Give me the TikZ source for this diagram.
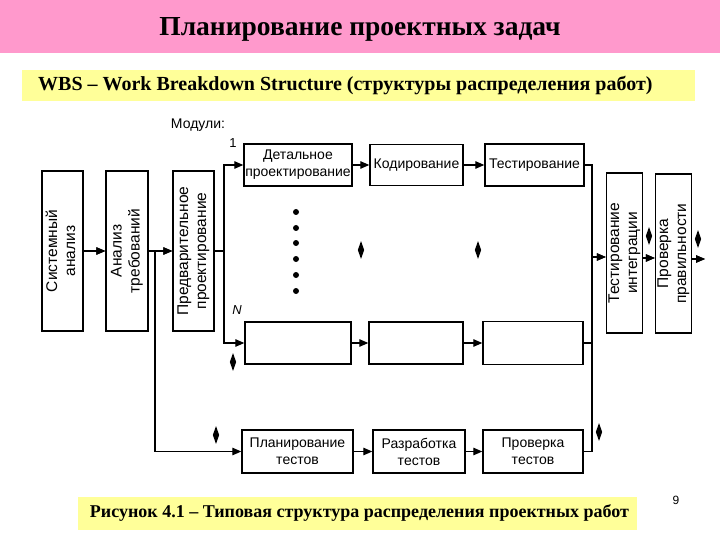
\documentclass[tikz,border=0pt]{standalone}
\usepackage{fontspec}
\usepackage{graphicx}
\setmainfont{Liberation Serif}
\setsansfont{Liberation Sans}
\usetikzlibrary{arrows.meta,shapes.geometric,calc}
\definecolor{titlepink}{RGB}{255,153,204}
\definecolor{wbsyellow}{RGB}{255,255,153}
\newcommand{\vlabel}[2]{\rotatebox{90}{\begin{tabular}{@{}c@{}}#1\\#2\end{tabular}}}
\newcommand{\harrow}[2]{%
  \fill[black] ($(#1)+(0,-0.6)$) rectangle ($(#2)+(-8,0.6)$);
  \fill[black] (#2) -- ($(#2)+(-9,-3.75)$) -- ($(#2)+(-9,3.75)$) -- cycle;}
\tikzset{
  blk/.style={draw, line width=1.4pt, inner sep=0pt, align=center, font=\sffamily\fontsize{14}{17}\selectfont},
  vblk/.style={draw, line width=1.4pt, inner sep=0pt, font=\sffamily\fontsize{15.5}{18}\selectfont},
  conn/.style={line width=1.2pt},
  arr/.style={line width=1.2pt, -{Triangle[length=9pt,width=7.5pt]}},
  lozenge/.style={diamond, fill=black, inner sep=0pt, minimum width=6.5pt, minimum height=18pt},
  dotm/.style={circle, fill=black, inner sep=0pt, minimum size=6pt}
}
\begin{document}
\begin{tikzpicture}[x=1pt,y=-1pt]
\useasboundingbox (0,0) rectangle (720,540);
% junction points
\coordinate (lj) at (155,251);
\coordinate (sj) at (224,251);
\coordinate (rtop) at (592,165);
\coordinate (rbot) at (592,451.5);
\coordinate (rj) at (592,257);
\coordinate (tj) at (642,258);
\coordinate (oj) at (691,259);
\coordinate (outp) at (705,259);

% header
\fill[titlepink] (0,0) rectangle (720,53);
\node[font=\bfseries\fontsize{27.5}{30}\selectfont] (title) at (360,29) {Планирование проектных задач};
\fill[wbsyellow] (22,70) rectangle (695,101);
\node[anchor=west, inner sep=0pt, font=\bfseries\fontsize{20}{22}\selectfont] (wbs) at (38,86) {WBS – Work Breakdown Structure (структуры распределения работ)};
% caption
\fill[wbsyellow] (78,497) rectangle (637,530);
\node[font=\bfseries\fontsize{18}{20}\selectfont] (cap) at (359.5,513) {Рисунок 4.1 – Типовая структура распределения проектных работ};
\node[font=\sffamily\fontsize{12}{14}\selectfont] (pg) at (676,500) {9};

% left vertical boxes
\node[vblk, minimum height=160pt, minimum width=41pt] (sys) at (62.5,251) {\vlabel{Системный}{анализ}};
\node[vblk, minimum height=160pt, minimum width=42pt] (req) at (127,251) {\vlabel{Анализ}{требований}};
\node[vblk, minimum height=160pt, minimum width=41pt] (pre) at (193.5,251) {\vlabel{Предварительное}{проектирование}};

\node[font=\sffamily\fontsize{14}{16}\selectfont] (mod) at (198,125) {Модули:};
\node[font=\sffamily\fontsize{13}{14}\selectfont] (one) at (233,143) {1};
\node[font=\sffamily\itshape\fontsize{13}{14}\selectfont] (nn) at (237,310) {N};

% module 1 row
\node[blk, minimum width=108pt, minimum height=42pt] (det) at (298,165) {Детальное\\проектирование};
\node[blk, minimum width=93pt, minimum height=41pt] (cod) at (416.5,165) {Кодирование};
\node[blk, minimum width=99pt, minimum height=42pt] (tst) at (534.5,165) {Тестирование};

% module N row
\node[blk, minimum width=106pt, minimum height=42pt] (na) at (298,343) {};
\node[blk, minimum width=94pt, minimum height=42pt] (nb) at (416,343) {};
\node[blk, minimum width=100pt, minimum height=43pt] (nc) at (533,343) {};

% test row
\node[blk, minimum width=111pt, minimum height=43pt] (tpl) at (297.5,451.5) {Планирование\\тестов};
\node[blk, minimum width=92pt, minimum height=43pt] (tdv) at (419,451.5) {Разработка\\тестов};
\node[blk, minimum width=100pt, minimum height=43pt] (tck) at (533,451.5) {Проверка\\тестов};

% right vertical boxes
\node[vblk, minimum height=160pt, minimum width=35pt] (ti) at (624.5,253) {\vlabel{Тестирование}{интеграции}};
\node[vblk, minimum height=159pt, minimum width=35pt] (pp) at (673.5,253.5) {\vlabel{Проверка}{правильности}};

% continuation dots
\foreach \i/\yy in {1/212,2/228,3/243,4/259,5/275,6/291}
  \node[dotm] (dot\i) at (296,\yy) {};

% lozenges
\node[lozenge] (d1) at (361,250) {};
\node[lozenge] (d2) at (478,250) {};
\node[lozenge] (d3) at (233,362) {};
\node[lozenge] (d4) at (216,435) {};
\node[lozenge] (d5) at (599,432) {};
\node[lozenge] (d6) at (649,236) {};
\node[lozenge] (d7) at (698,239) {};

% middle-level connectors
\draw[arr] (sys.east) -- (req.west);
\draw[arr] (req.east) -- (pre.west);
\draw[conn] (pre.east) -- (sj);
\draw[arr] (rj) -- (ti.west |- rj);
\draw[arr] (tj) -- (pp.west |- tj);
\draw[arr] (oj) -- (outp);
% the same middle-level connectors, also as filled shapes
\harrow{sys.east}{req.west}
\harrow{req.east}{pre.west}
\fill[black] ($(pre.east)+(0,-0.6)$) rectangle ($(sj)+(0,0.6)$);
\harrow{rj}{ti.west |- rj}
\harrow{tj}{pp.west |- tj}
\harrow{oj}{outp}

% splits
\draw[arr] (sj) |- (det.west);
\draw[arr] (sj) |- (na.west);
\draw[arr] (lj) |- (tpl.west);

% rows
\draw[arr] (det.east) -- (cod.west);
\draw[arr] (cod.east) -- (tst.west);
\draw[arr] (na.east) -- (nb.west);
\draw[arr] (nb.east) -- (nc.west);
\draw[arr] (tpl.east) -- (tdv.west);
\draw[arr] (tdv.east) -- (tck.west);

% right collector
\draw[conn] (tst.east) -- (rtop) -- (rbot);
\draw[conn] (nc.east) -- (nc.east -| rbot);
\draw[conn] (tck.east) -- (rbot);
\end{tikzpicture}
\end{document}
